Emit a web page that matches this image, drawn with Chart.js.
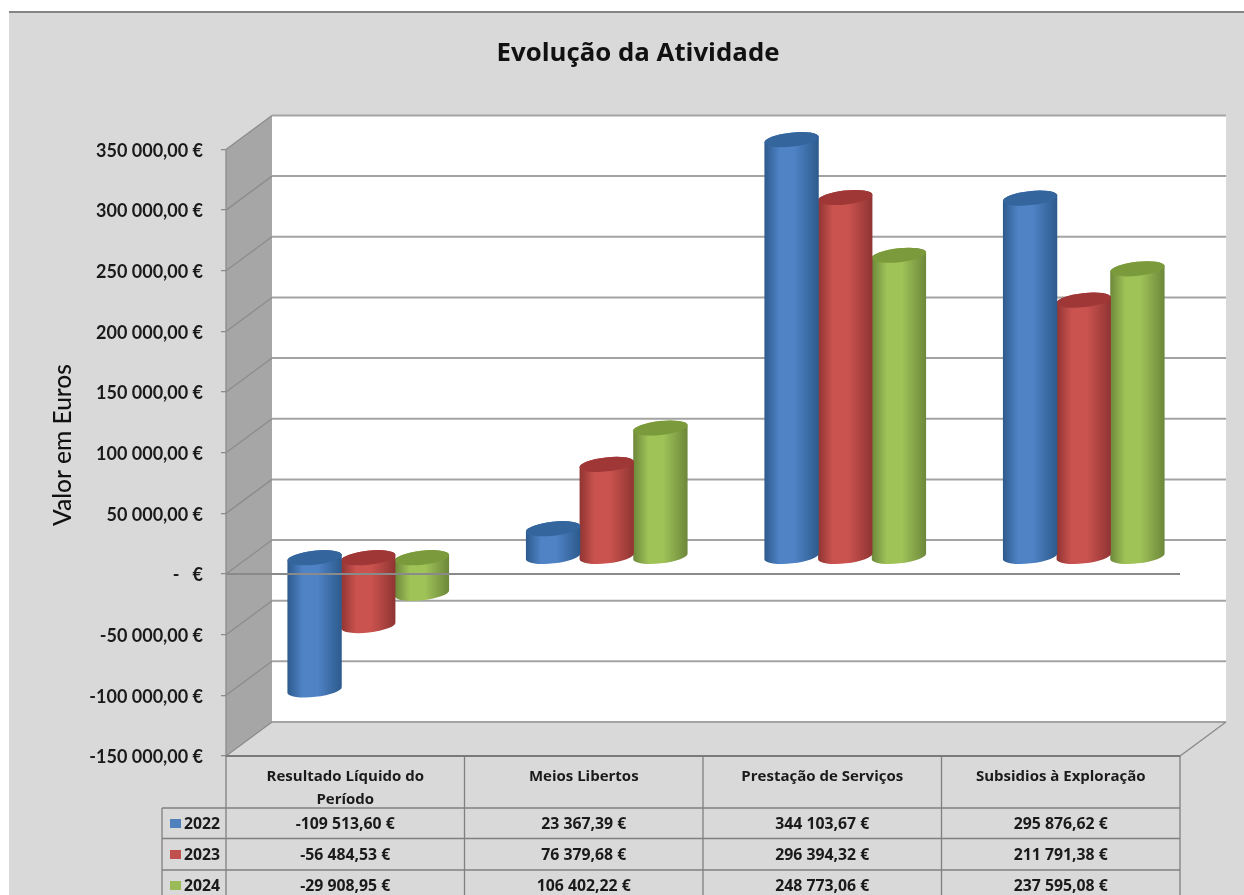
<!DOCTYPE html>
<html>
<head>
<meta charset="utf-8">
<style>html,body{margin:0;padding:0;background:#fff}canvas{display:block}</style>
<script src="https://cdn.jsdelivr.net/npm/chart.js@4"></script>
</head>
<body>
<canvas id="c" width="1244" height="895"></canvas>
<script>
const categories = [['Resultado Líquido do','Período'],'Meios Libertos','Prestação de Serviços','Subsidios à Exploração'];
const seriesNames = ['2022','2023','2024'];
const values2022 = [-109513.60, 23367.39, 344103.67, 295876.62];
const values2023 = [-56484.53, 76379.68, 296394.32, 211791.38];
const values2024 = [-29908.95, 106402.22, 248773.06, 237595.08];
const colors = ['#4f81bd','#c0504d','#9bbb59'];
const shades = {
  '#4f81bd':{edge:'#2d5a8c',mid:'#4f83c6',cap:'#34659c'},
  '#c0504d':{edge:'#8f3432',mid:'#cb534f',cap:'#9e3735'},
  '#9bbb59':{edge:'#6c873a',mid:'#a0c358',cap:'#7b9a3c'}
};
const DX = 46, DY = 34;            // wall depth of the 3-D box
const grey = '#8c8c8c';

function money(v, dec){
  const neg = v < 0;
  const parts = Math.abs(v).toFixed(dec).split('.');
  const int = parts[0].replace(/\B(?=(\d{3})+$)/g,' ');
  return (neg?'-':'') + int + (dec?','+parts[1]:'') + ' €';
}

const box3d = {
  id:'box3d',
  afterLayout(chart){
    const t = chart.titleBlock;
    t.left = 338; t.right = 938;
  },
  beforeDraw(chart){
    const c = chart.ctx;
    c.save();
    c.fillStyle='#fff'; c.fillRect(0,0,chart.width,chart.height);
    c.fillStyle='#d9d9d9'; c.fillRect(9,12,chart.width-9,chart.height-12);
    c.fillStyle='#858585'; c.fillRect(9,11,chart.width-9,2);
    c.restore();
  },
  beforeDatasetsDraw(chart){
    const c = chart.ctx, y = chart.scales.y, a = chart.chartArea;
    const L=a.left,R=a.right,T=a.top,B=a.bottom;
    c.save();
    // back wall
    c.fillStyle='#fff'; c.fillRect(L+DX,T-DY,R-L,B-T);
    // side wall
    c.fillStyle='#a6a6a6';
    c.beginPath(); c.moveTo(L,T); c.lineTo(L+DX,T-DY); c.lineTo(L+DX,B-DY); c.lineTo(L,B); c.closePath(); c.fill();
    // floor
    c.fillStyle='#d9d9d9';
    c.beginPath(); c.moveTo(L,B); c.lineTo(L+DX,B-DY); c.lineTo(R+DX,B-DY); c.lineTo(R,B); c.closePath(); c.fill();
    // gridlines
    c.strokeStyle=grey; c.lineWidth=2;
    y.ticks.forEach(t=>{
      const p = y.getPixelForValue(t.value);
      c.lineWidth=1.3;
      c.beginPath(); c.moveTo(L,p); c.lineTo(L+DX,p-DY); c.stroke();
      c.lineWidth=2;
      c.strokeStyle='#a3a3a3';
      c.beginPath(); c.moveTo(L+DX,p-DY); c.lineTo(R+DX,p-DY); c.stroke();
      c.strokeStyle=grey;
    });
    c.lineWidth=1.3;
    c.beginPath(); c.moveTo(L,T); c.lineTo(L,B); c.lineTo(R,B); c.lineTo(R+DX,B-DY); c.stroke();
    c.restore();
  },
  beforeDatasetDraw(chart,args){
    const c = chart.ctx, meta = args.meta;
    const col = chart.data.datasets[args.index].backgroundColor;
    const s = shades[col];
    const rot = -0.11, ry = 7;
    c.save();
    meta.data.forEach(el=>{
      const rx = el.width/2 + 0.5;
      const cx = el.x + DX/2;
      const top = Math.min(el.y, el.base) - DY/2;
      const bot = Math.max(el.y, el.base) - DY/2;
      const g = c.createLinearGradient(cx-rx,0,cx+rx,0);
      g.addColorStop(0,s.edge); g.addColorStop(0.28,s.mid); g.addColorStop(0.55,s.mid);
      g.addColorStop(1,s.edge);
      c.fillStyle=g;
      c.beginPath();
      c.ellipse(cx,bot,rx,ry,rot,0,Math.PI,false);
      c.ellipse(cx,top,rx,ry,rot,Math.PI,0,false);
      c.closePath(); c.fill();
      c.fillStyle=s.cap;
      c.beginPath(); c.ellipse(cx,top,rx,ry,rot,0,Math.PI*2); c.fill();
    });
    c.restore();
    return false;
  },
  afterDatasetsDraw(chart){
    const c = chart.ctx, a = chart.chartArea, y = chart.scales.y;
    const p = y.getPixelForValue(0);
    c.save();
    c.strokeStyle='#8a8a8a'; c.lineWidth=2;
    c.beginPath(); c.moveTo(a.left,p); c.lineTo(a.right,p); c.stroke();
    c.restore();
  },
  afterDraw(chart){
    const c = chart.ctx, a = chart.chartArea, x = chart.scales.x;
    const rows = [808,838.5,870];
    const legL = 162, H = chart.height;
    const cols = [0,1,2,3].map(i=>x.getPixelForValue(i)-(x.getPixelForValue(1)-x.getPixelForValue(0))/2);
    cols.push(a.right);
    c.save();
    // axis title, centred on the visible wall rather than on the scale
    c.fillStyle='#111';
    c.font='500 24.5px Lato';
    c.textAlign='center'; c.textBaseline='middle';
    c.translate(63,445); c.rotate(-Math.PI/2);
    c.fillText('Valor em Euros',0,0);
    c.restore();
    c.save();
    c.strokeStyle='#808080'; c.lineWidth=1.3;
    c.beginPath();
    cols.forEach(v=>{c.moveTo(v,a.bottom); c.lineTo(v,H);});
    c.moveTo(legL,rows[0]); c.lineTo(legL,H);
    rows.forEach(r=>{c.moveTo(legL,r); c.lineTo(a.right,r);});
    c.stroke();
    c.lineWidth=2; c.strokeStyle='#7a7a7a';
    c.beginPath(); c.moveTo(a.left,a.bottom); c.lineTo(a.right,a.bottom); c.stroke();
    c.textBaseline='middle';
    c.font='bold 15.8px "Open Sans"';
    const centers=[824.5,855.5,886.5];
    chart.data.datasets.forEach((ds,i)=>{
      c.fillStyle=ds.backgroundColor;
      c.fillRect(170,centers[i]-5.5,11,9);
      c.fillStyle='#1a1a1a';
      c.textAlign='left';
      c.fillText(ds.label,184,centers[i]);
      c.textAlign='center';
      ds.data.forEach((v,j)=>{
        c.fillText(money(v,2),x.getPixelForValue(j),centers[i]);
      });
    });
    c.restore();
  }
};

new Chart(document.getElementById('c'),{
  type:'bar',
  data:{
    labels:categories,
    datasets:[
      {label:seriesNames[0],data:values2022,backgroundColor:colors[0]},
      {label:seriesNames[1],data:values2023,backgroundColor:colors[1]},
      {label:seriesNames[2],data:values2024,backgroundColor:colors[2]}
    ]
  },
  plugins:[box3d],
  options:{
    responsive:false,
    animation:false,
    layout:{padding:{left:9,right:64,top:0,bottom:0}},
    datasets:{bar:{categoryPercentage:0.675,barPercentage:1}},
    plugins:{
      legend:{display:false},
      tooltip:{enabled:false},
      title:{display:true,text:'Evolução da Atividade',color:'#111',
        font:{family:'"Open Sans"',size:25.8,weight:'bold',lineHeight:1.2},
        padding:{top:38,bottom:80.5}}
    },
    scales:{
      x:{
        grid:{display:false},border:{display:false},
        afterFit(s){s.height=139;},
        ticks:{color:'#1a1a1a',padding:1,maxRotation:0,autoSkip:false,
          font:{family:'"Open Sans"',size:15,weight:'bold',lineHeight:'23px'}}
      },
      y:{
        min:-150000,max:350000,
        afterFit(s){s.width=217;},
        border:{display:false},
        grid:{drawOnChartArea:false,tickLength:5,color:grey,lineWidth:1.3},
        ticks:{stepSize:50000,padding:18,labelOffset:1.5,color:'#1a1a1a',
          font:{family:'Lato',size:18,weight:'bold'},
          callback:v=>v===0?'-   €':money(v,2)}
      }
    }
  }
});
</script>
</body>
</html>
